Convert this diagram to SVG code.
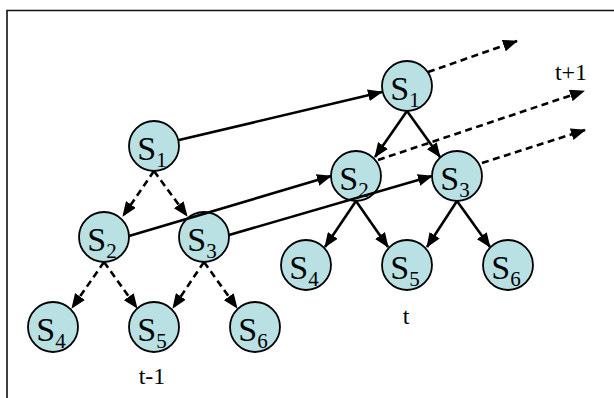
<svg xmlns="http://www.w3.org/2000/svg" width="614" height="398" viewBox="0 0 614 398">
<defs>
<marker id="ah" markerUnits="userSpaceOnUse" markerWidth="15" markerHeight="12" refX="14" refY="6" orient="auto">
<path d="M0,0 L15,6 L0,12 z" fill="#000"/>
</marker>
<style>
.n circle{fill:#b9e0e3;stroke:#000;stroke-width:1.8}
.n text,.lbl{font-family:"Liberation Serif","Times New Roman",serif;fill:#000}
.n text{font-size:34px;text-anchor:middle}
.n tspan{font-size:21px}
.lbl{text-anchor:middle}
.s{stroke:#000;stroke-width:2.6;fill:none;marker-end:url(#ah)}
.d{stroke:#000;stroke-width:2.6;fill:none;stroke-dasharray:7 4.5;marker-end:url(#ah)}
</style>
</defs>
<rect width="614" height="398" fill="#fff"/>
<path d="M7,398 V10.5 H614" fill="none" stroke="#111" stroke-width="1.6"/>
<g id="L1" class="n"><circle cx="154" cy="146" r="25"/><text x="152" y="160">S<tspan dy="7">1</tspan></text></g>
<g id="L2" class="n"><circle cx="104" cy="237" r="25"/><text x="102" y="251">S<tspan dy="7">2</tspan></text></g>
<g id="L3" class="n"><circle cx="204" cy="237" r="25"/><text x="202" y="251">S<tspan dy="7">3</tspan></text></g>
<g id="L4" class="n"><circle cx="53" cy="327" r="25"/><text x="51" y="341">S<tspan dy="7">4</tspan></text></g>
<g id="L5" class="n"><circle cx="154" cy="327" r="25"/><text x="152" y="341">S<tspan dy="7">5</tspan></text></g>
<g id="L6" class="n"><circle cx="255" cy="327" r="25"/><text x="253" y="341">S<tspan dy="7">6</tspan></text></g>
<g id="R1" class="n"><circle cx="407" cy="86" r="25"/><text x="405" y="100">S<tspan dy="7">1</tspan></text></g>
<g id="R2" class="n"><circle cx="356" cy="176" r="25"/><text x="354" y="190">S<tspan dy="7">2</tspan></text></g>
<g id="R3" class="n"><circle cx="457" cy="176" r="25"/><text x="455" y="190">S<tspan dy="7">3</tspan></text></g>
<g id="R4" class="n"><circle cx="306" cy="265" r="25"/><text x="304" y="279">S<tspan dy="7">4</tspan></text></g>
<g id="R5" class="n"><circle cx="407" cy="265" r="25"/><text x="405" y="279">S<tspan dy="7">5</tspan></text></g>
<g id="R6" class="n"><circle cx="508" cy="265" r="25"/><text x="506" y="279">S<tspan dy="7">6</tspan></text></g>
<text class="lbl" x="152" y="384" font-size="24">t-1</text>
<text class="lbl" x="406" y="324" font-size="24">t</text>
<text class="lbl" x="571" y="80" font-size="24">t+1</text>
<g id="connectors">
<path class="d" d="M154,171 L123,216"/>
<path class="d" d="M154,171 L187,216"/>
<path class="d" d="M104,262 L72,308"/>
<path class="d" d="M104,262 L137,308"/>
<path class="d" d="M204,262 L173,308"/>
<path class="d" d="M204,262 L237,308"/>
<path class="s" d="M407,111 L375,157"/>
<path class="s" d="M407,111 L440,157"/>
<path class="s" d="M356,201 L325,247"/>
<path class="s" d="M356,201 L388,247"/>
<path class="s" d="M457,201 L427,247"/>
<path class="s" d="M457,201 L490,247"/>
<path class="s" d="M179,140 L382,92"/>
<path class="s" d="M129,236 L331,176"/>
<path class="s" d="M229,235 L432,176"/>
<path class="d" d="M428,72 L517,41"/>
<path class="d" d="M378,160 L584,91"/>
<path class="d" d="M482,163 L585,130"/>
</g>
</svg>
